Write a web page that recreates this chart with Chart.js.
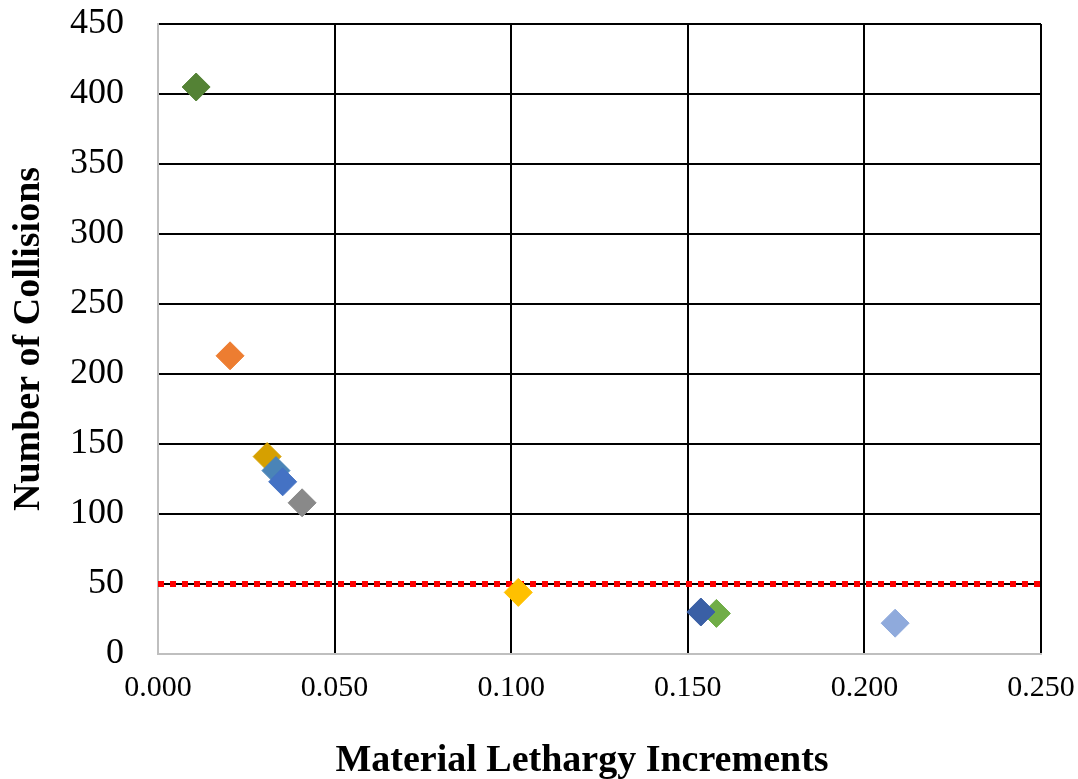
<!DOCTYPE html>
<html>
<head>
<meta charset="utf-8">
<title>Collisions vs. Material Lethargy Increments</title>
<script src="https://cdn.jsdelivr.net/npm/chart.js@4.4.1/dist/chart.umd.min.js"></script>
<style>
  html, body { margin: 0; padding: 0; background: #ffffff; }
  #wrap { width: 1078px; height: 779px; position: relative; }
  canvas { display: block; }
</style>
</head>
<body>
<div id="wrap"><canvas id="chart" width="1078" height="779"></canvas></div>
<script>
// Average lethargy gain per collision for each material, and the number of
// collisions needed to slow a neutron down (drawn in this order, later on top).
const lethargyIncrements = [0.0108, 0.0204, 0.0309, 0.0334, 0.0353, 0.0408, 0.1020, 0.1581, 0.1537, 0.2087];
const collisionCounts    = [405,    213,    141,    131,    123,    108,    44,     29,     30,     22];
const materialColors     = ['#548235', '#ED7D31', '#D6A000', '#4A84B7', '#4472C4', '#898989',
                            '#FFC000', '#70AD47', '#3A5FA5', '#8FAADC'];

// Reference level of collisions
const collisionLimit = 50;

// Axis ranges, tick spacing and titles
const xMin = 0, xMax = 0.25, xStep = 0.05;
const yMin = 0, yMax = 450, yStep = 50;
const xTitle = 'Material Lethargy Increments';
const yTitle = 'Number of Collisions';

const serif = '"Liberation Serif", "Times New Roman", Times, serif';
const gridColor = (ctx) => (ctx.tick && ctx.tick.value === 0) ? '#BFBFBF' : '#000000';

const points = lethargyIncrements.map((x, i) => ({ x: x, y: collisionCounts[i] }));

// Horizontal axis title, set a little left of the plot's centre
const xTitlePlugin = {
  id: 'xTitle',
  afterDraw(chart) {
    const ctx = chart.ctx;
    ctx.save();
    ctx.fillStyle = '#000000';
    ctx.font = 'bold 38px ' + serif;
    ctx.textAlign = 'center';
    ctx.textBaseline = 'alphabetic';
    ctx.fillText(xTitle, 582, 771);
    ctx.restore();
  }
};

new Chart(document.getElementById('chart'), {
  type: 'scatter',
  data: {
    datasets: [
      {
        label: 'Materials',
        data: points,
        pointStyle: 'rectRot',
        pointRadius: 14,
        pointHoverRadius: 14,
        backgroundColor: materialColors,
        borderColor: materialColors,
        borderWidth: 1,
        order: 0
      },
      {
        type: 'line',
        label: 'Limit',
        data: [{ x: xMin, y: collisionLimit }, { x: xMax, y: collisionLimit }],
        borderColor: '#FF0000',
        borderWidth: 6,
        borderDash: [6, 6],
        pointRadius: 0,
        fill: false,
        order: 1
      }
    ]
  },
  plugins: [xTitlePlugin],
  options: {
    responsive: false,
    animation: false,
    devicePixelRatio: 1,
    layout: { padding: { top: 24, right: 37, bottom: 0, left: 0 } },
    plugins: {
      legend: { display: false },
      tooltip: { enabled: false }
    },
    scales: {
      x: {
        type: 'linear',
        min: xMin,
        max: xMax,
        afterFit: (scale) => {
          scale.height = 125;
          scale.paddingLeft = 0;
          scale.paddingRight = 0;
        },
        ticks: {
          stepSize: xStep,
          padding: 16,
          color: '#000000',
          font: { family: serif, size: 30 },
          callback: (v) => Number(v).toFixed(3),
          maxRotation: 0
        },
        grid: { color: gridColor, lineWidth: 2, drawTicks: false },
        border: { display: true, color: '#BFBFBF', width: 2 },
        title: { display: false }
      },
      y: {
        type: 'linear',
        min: yMin,
        max: yMax,
        afterFit: (scale) => {
          scale.width = 158;
          scale.paddingTop = 0;
          scale.paddingBottom = 0;
        },
        ticks: {
          stepSize: yStep,
          padding: 34,
          color: '#000000',
          font: { family: serif, size: 36 }
        },
        grid: { color: gridColor, lineWidth: 2, drawTicks: false },
        border: { display: true, color: '#BFBFBF', width: 2 },
        title: {
          display: true,
          text: yTitle,
          color: '#000000',
          font: { family: serif, size: 38, weight: 'bold', lineHeight: 1.2 },
          padding: { top: 6, bottom: 0 }
        }
      }
    }
  }
});
</script>
</body>
</html>
